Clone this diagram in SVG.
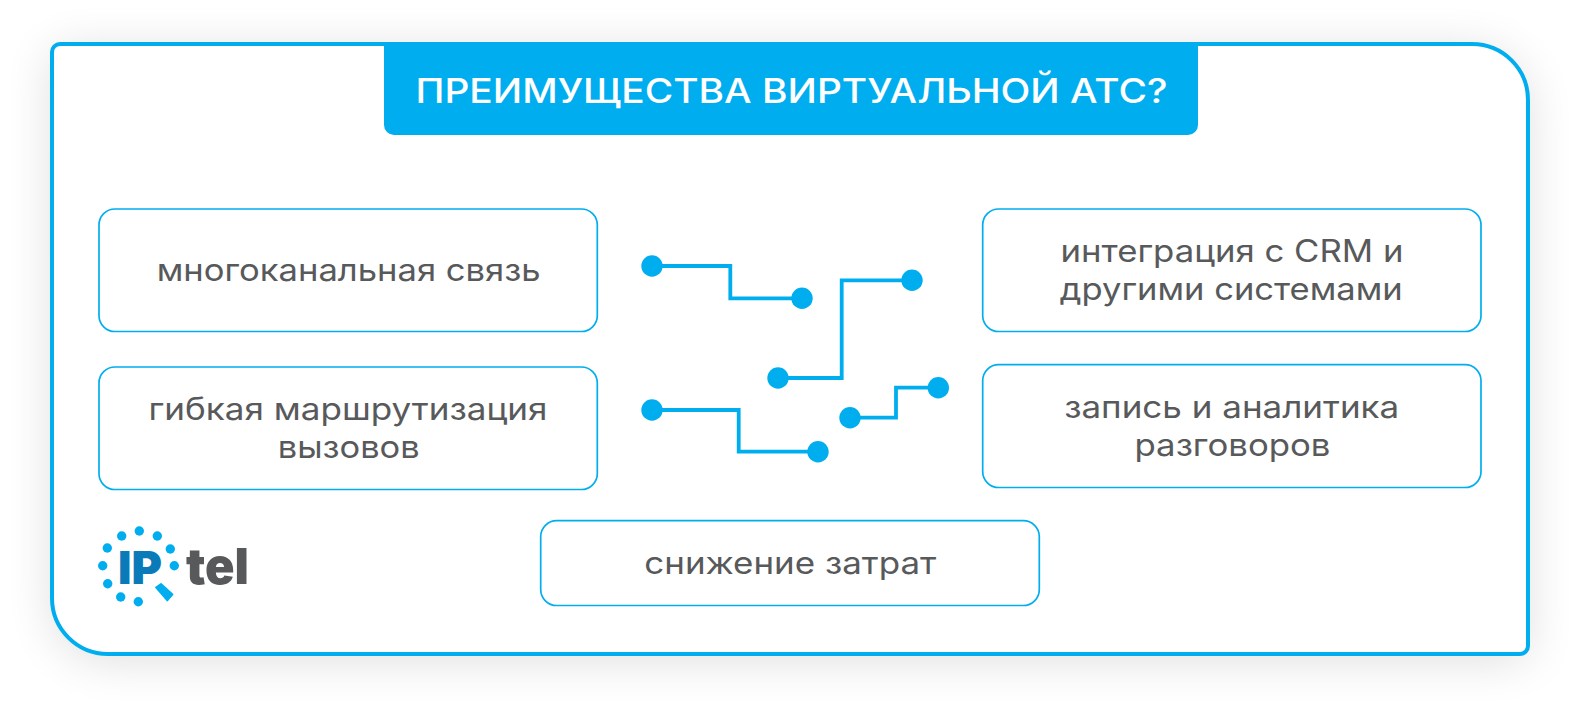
<svg xmlns="http://www.w3.org/2000/svg" width="1580" height="714" viewBox="0 0 1580 714">
<style>
.box{fill:#fff;stroke:#00aeef;stroke-width:1.700}
.t{font-family:Inter,"Open Sans",sans-serif;font-size:30.500px;fill:#58595b;text-anchor:middle}
.w{stroke:#00aeef;stroke-width:3.800;fill:none}
.d{fill:#00aeef}
</style>
<defs><filter id="sh" x="-10%" y="-20%" width="120%" height="140%"><feGaussianBlur stdDeviation="24"/></filter></defs>
<rect width="1580" height="714" fill="#fff"/>
<path d="M52 58a8 8 0 0 1 8-8H1472a56 56 0 0 1 56 56V652a8 8 0 0 1-8 8H108a56 56 0 0 1-56-56Z" fill="#000" opacity=".13" filter="url(#sh)"/>
<path id="card" d="M52 52a8 8 0 0 1 8-8H1472a56 56 0 0 1 56 56V646a8 8 0 0 1-8 8H108a56 56 0 0 1-56-56Z" fill="#fff" stroke="#00aeef" stroke-width="4"/>
<g id="title"><path d="M384 44H1198V125a10 10 0 0 1-10 10H394a10 10 0 0 1-10-10Z" fill="#00aeef"/>
<text x="791.500" y="102.700" font-family="Inter,'Open Sans',sans-serif" font-size="33.500" font-weight="500" fill="#fff" text-anchor="middle" textLength="752" lengthAdjust="spacingAndGlyphs">ПРЕИМУЩЕСТВА ВИРТУАЛЬНОЙ АТС?</text></g>
<g id="n1"><rect class="box" x="99" y="209" width="498.300" height="122.500" rx="16"/><text class="t" x="348.700" y="281" textLength="384" lengthAdjust="spacingAndGlyphs">многоканальная связь</text></g>
<g id="n2"><rect class="box" x="99" y="367" width="498.300" height="122.500" rx="16"/><text class="t" x="348" y="420" textLength="399" lengthAdjust="spacingAndGlyphs">гибкая маршрутизация</text><text class="t" x="348.700" y="458.300" textLength="142" lengthAdjust="spacingAndGlyphs">вызовов</text></g>
<g id="n3"><rect class="box" x="982.700" y="209" width="498.300" height="122.500" rx="16"/><text class="t" x="1232" y="262.300" textLength="343" lengthAdjust="spacingAndGlyphs">интеграция с CRM и</text><text class="t" x="1231.300" y="300.300" textLength="343" lengthAdjust="spacingAndGlyphs">другими системами</text></g>
<g id="n4"><rect class="box" x="982.700" y="364.700" width="498.300" height="122.800" rx="16"/><text class="t" x="1231.700" y="418" textLength="335" lengthAdjust="spacingAndGlyphs">запись и аналитика</text><text class="t" x="1232.500" y="456" textLength="196" lengthAdjust="spacingAndGlyphs">разговоров</text></g>
<g id="n5"><rect class="box" x="540.700" y="520.700" width="498.600" height="84.800" rx="16"/><text class="t" x="790.300" y="574.300" textLength="292" lengthAdjust="spacingAndGlyphs">снижение затрат</text></g>
<g id="connectors">
<path class="w" d="M652 266H730.300V298.300H802"/><circle class="d" cx="652" cy="266" r="10.700"/><circle class="d" cx="802" cy="298.300" r="10.700"/>
<path class="w" d="M778 378H841.700V280.300H912"/><circle class="d" cx="778" cy="378" r="10.700"/><circle class="d" cx="912" cy="280.300" r="10.700"/>
<path class="w" d="M652 410H738.700V451.700H818"/><circle class="d" cx="652" cy="410" r="10.700"/><circle class="d" cx="818" cy="451.700" r="10.700"/>
<path class="w" d="M850 417.700H896V387.700H938.300"/><circle class="d" cx="850" cy="417.700" r="10.700"/><circle class="d" cx="938.300" cy="387.700" r="10.700"/>
</g>
<g id="logo">
<g class="d"><circle cx="139.300" cy="531" r="4.700"/><circle cx="121.700" cy="536" r="4.700"/><circle cx="157.300" cy="536" r="4.700"/><circle cx="107.300" cy="548" r="4.700"/><circle cx="170.300" cy="549" r="4.700"/><circle cx="102.700" cy="565.700" r="4.700"/><circle cx="174.300" cy="565.700" r="4.700"/><circle cx="107.700" cy="583.700" r="4.700"/><circle cx="120.700" cy="597" r="4.700"/><circle cx="138.300" cy="601.700" r="4.700"/></g>
<path class="d" d="M156 587.500L161 584L172.500 594.500L167.300 600.500Z" stroke="#00aeef" stroke-width="1.800" stroke-linejoin="round"/>
<text x="118" y="584" font-family="Inter,'Open Sans',sans-serif" font-size="46" font-weight="900" fill="#0a7ab8" textLength="44" lengthAdjust="spacingAndGlyphs">IP</text>
<text x="186" y="584" font-family="Inter,'Open Sans',sans-serif" font-size="50" font-weight="900" fill="#58595b" textLength="63" lengthAdjust="spacingAndGlyphs">tel</text>
</g>
</svg>
